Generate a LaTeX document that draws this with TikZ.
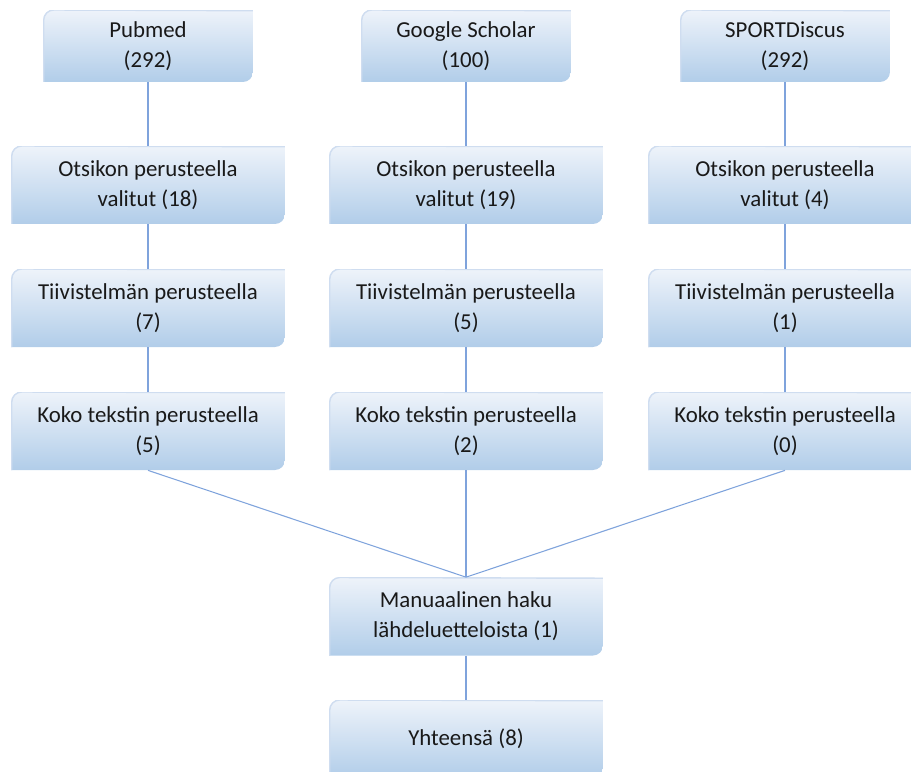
\documentclass[tikz,border=0pt]{standalone}
\usepackage{fontspec}
\setmainfont{Carlito}
\usepackage{tikz}
\usetikzlibrary{positioning}

\definecolor{ylin}{HTML}{EEF3FA}
\definecolor{keski}{HTML}{CCDEF1}
\definecolor{alin}{HTML}{B1CDE9}
\definecolor{viiva}{HTML}{7FA3DC}
\definecolor{reuna}{HTML}{CFDDF0}

\tikzset{
  kulmat/.style={
    path picture={
      \shade[top color=ylin, middle color=keski, bottom color=alin]
        (path picture bounding box.south west)
        -- ([yshift=-0.2cm]path picture bounding box.north west)
        arc[start angle=180, end angle=90, radius=0.2cm]
        -- (path picture bounding box.north east)
        -- ([yshift=0.2cm]path picture bounding box.south east)
        arc[start angle=0, end angle=-90, radius=0.2cm]
        -- cycle;
      \draw[reuna, line width=0.8pt]
        ([xshift=0.4pt]path picture bounding box.south west)
        -- ([xshift=0.4pt,yshift=-0.2cm]path picture bounding box.north west)
        arc[start angle=180, end angle=90, radius=0.2cm]
        -- ([yshift=-0.4pt]path picture bounding box.north east);
    }},
  laatikko/.style={kulmat, align=center, inner sep=0pt, text=black!90,
    font=\fontsize{13}{17}\selectfont,
    minimum width=5.48cm, minimum height=1.56cm},
  lahde/.style={laatikko, minimum width=4.2cm, minimum height=1.44cm},
  yhteys/.style={viiva, line width=0.6pt}
}

\begin{document}
\begin{tikzpicture}[x=0.02cm, y=-0.02cm]
		\useasboundingbox (0,0) rectangle (911,771);
		% lahteet
		\node[lahde] (P0) at (148, 46) {Pubmed\\(292)};
		\node[lahde] (G0) at (466, 46) {Google Scholar\\(100)};
		\node[lahde] (S0) at (785, 46) {SPORTDiscus\\(292)};
		% otsikot
		\node[laatikko] (P1) at (148, 185) {Otsikon perusteella\\valitut (18)};
		\node[laatikko] (G1) at (466, 185) {Otsikon perusteella\\valitut (19)};
		\node[laatikko] (S1) at (785, 185) {Otsikon perusteella\\valitut (4)};
		% tiivistelmat
		\node[laatikko] (P2) at (148, 308) {Tiivistelmän perusteella\\(7)};
		\node[laatikko] (G2) at (466, 308) {Tiivistelmän perusteella\\(5)};
		\node[laatikko] (S2) at (785, 308) {Tiivistelmän perusteella\\(1)};
		% koko teksti
		\node[laatikko] (P3) at (148, 431) {Koko tekstin perusteella\\(5)};
		\node[laatikko] (G3) at (466, 431) {Koko tekstin perusteella\\(2)};
		\node[laatikko] (S3) at (785, 431) {Koko tekstin perusteella\\(0)};
		\node[laatikko] (M) at (466, 616.5) {Manuaalinen haku\\lähdeluetteloista (1)};
		\node[laatikko] (Y) at (466, 739) {Yhteensä (8)};
		\draw[yhteys] (P0) -- (P1) -- (P2) -- (P3);
		\draw[yhteys] (G0) -- (G1) -- (G2) -- (G3);
		\draw[yhteys] (S0) -- (S1) -- (S2) -- (S3);
		\draw[yhteys] (P3.south) -- (M.north);
		\draw[yhteys] (G3.south) -- (M.north);
		\draw[yhteys] (S3.south) -- (M.north);
		\draw[yhteys] (M) -- (Y);
	\end{tikzpicture}
\end{document}
